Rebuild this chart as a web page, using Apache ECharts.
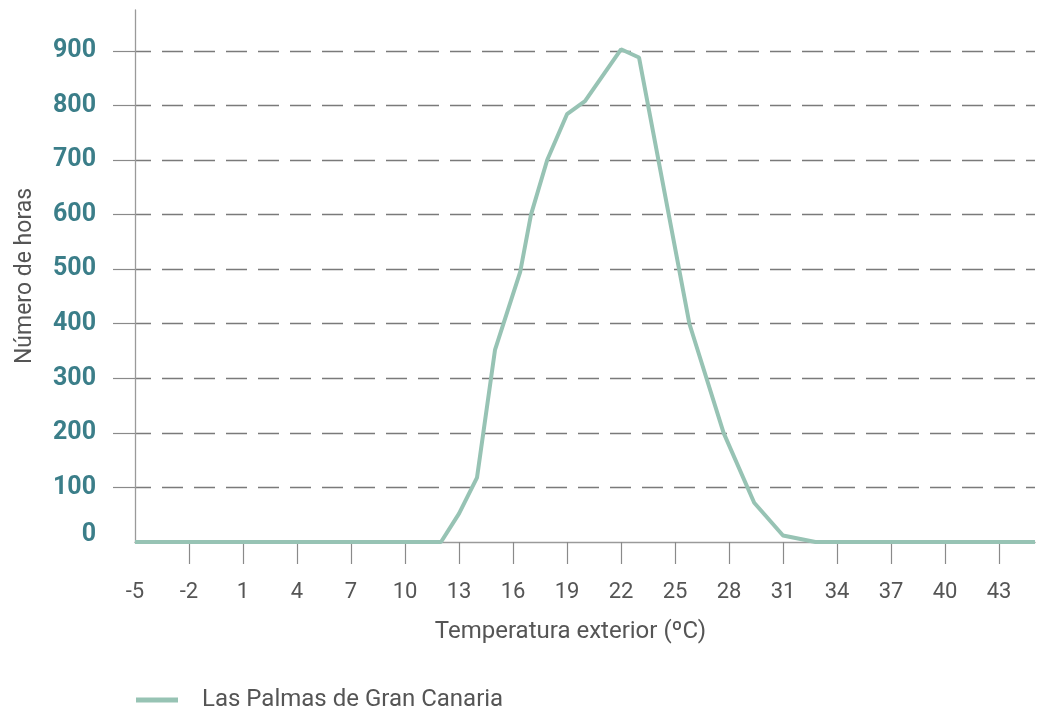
<!DOCTYPE html>
<html>
<head>
<meta charset="utf-8">
<script src="https://cdn.jsdelivr.net/npm/echarts@6/dist/echarts.min.js"></script>
<style>
html,body{margin:0;padding:0;background:#fff;}
#chart{width:1048px;height:713px;}
</style>
</head>
<body>
<div id="chart"></div>
<script>
// Data
const seriesName = 'Las Palmas de Gran Canaria';
const temps = [-5, 12, 13, 14, 15, 16.4, 17, 17.9, 19, 20, 22, 23, 25.8, 27.7, 29.4, 31, 32.8, 45];
const hours = [0, 0, 52, 118, 352, 495, 600, 700, 784, 808, 903, 888, 400, 200, 72, 12, 0, 0];
const xTickLabels = [-5, -2, 1, 4, 7, 10, 13, 16, 19, 22, 25, 28, 31, 34, 37, 40, 43];
const yTickLabels = [0, 100, 200, 300, 400, 500, 600, 700, 800, 900];
const xAxisTitle = 'Temperatura exterior (ºC)';
const yAxisTitle = 'Número de horas';

const points = temps.map((t, i) => [t, hours[i]]);
const font = 'Roboto, "Noto Sans", sans-serif';

const chart = echarts.init(document.getElementById('chart'));
chart.setOption({
  animation: false,
  backgroundColor: '#ffffff',
  grid: { left: 135, right: 13, top: 10, height: 532, containLabel: false },
  legend: {
    left: 131, top: 683,
    icon: 'rect', itemWidth: 42, itemHeight: 5,
    textStyle: { color: '#555555', fontSize: 24, fontFamily: font, padding: [0, 0, 0, 19] },
    data: [seriesName]
  },
  xAxis: {
    type: 'value', min: -5, max: 45, interval: 3,
    name: xAxisTitle, nameLocation: 'middle', nameGap: 78,
    nameTextStyle: { color: '#555555', fontSize: 24, fontFamily: font, padding: [0, 29, 0, 0] },
    axisLine: { show: true, onZero: false, lineStyle: { color: '#9a9a9a', width: 1.3 } },
    axisTick: { show: true, length: 22, customValues: xTickLabels.slice(1), lineStyle: { color: '#8a8a8a', width: 1.2 } },
    axisLabel: { customValues: xTickLabels, margin: 39, color: '#555555', fontSize: 22, fontFamily: font },
    splitLine: { show: false }
  },
  yAxis: {
    type: 'value', min: 0, max: 975, interval: 100,
    name: yAxisTitle, nameLocation: 'middle', nameGap: 98,
    nameTextStyle: { color: '#555555', fontSize: 23, fontFamily: font },
    axisLine: { show: true, onZero: false, lineStyle: { color: '#9a9a9a', width: 1.3 } },
    axisTick: { show: true, length: 22, customValues: yTickLabels.slice(1), lineStyle: { color: '#8a8a8a', width: 1.2 } },
    axisLabel: {
      customValues: yTickLabels, margin: 39, color: '#3b7e89', fontSize: 25, fontWeight: 'bold', fontFamily: font,
      formatter: v => v === 0 ? '{z|0}' : String(v),
      rich: { z: { color: '#3b7e89', fontSize: 25, fontWeight: 'bold', fontFamily: font, padding: [0, 0, 14, 0] } }
    },
    splitLine: {
      show: true, showMinLine: true, showMaxLine: true,
      lineStyle: { color: '#7a7a7a', width: 1.3, type: [21, 11], dashOffset: 5 }
    }
  },
  series: [{
    name: seriesName,
    type: 'line',
    data: points,
    symbol: 'none',
    showSymbol: false,
    lineStyle: { color: '#97c3b4', width: 4 },
    itemStyle: { color: '#97c3b4' }
  }]
});
</script>
</body>
</html>
